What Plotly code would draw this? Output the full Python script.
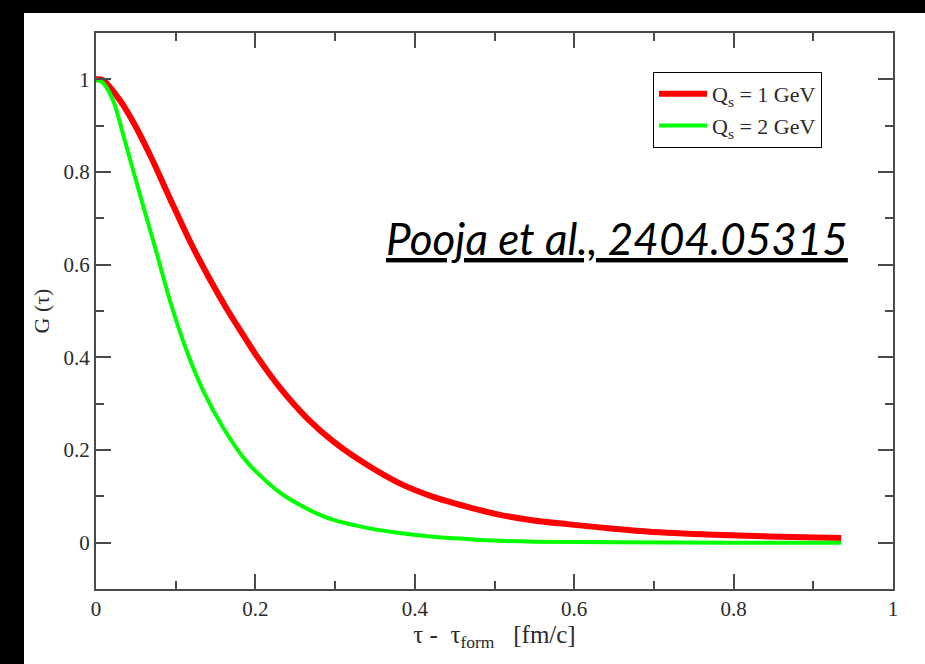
import plotly.graph_objects as go

# G(tau) vs tau - tau_form for two saturation scales
tau_qs1 = [0.0, 0.009, 0.030, 0.047, 0.068, 0.093, 0.118, 0.143, 0.164, 0.177, 0.202,
           0.231, 0.264, 0.298, 0.340, 0.381, 0.423, 0.465, 0.507, 0.549, 0.591,
           0.632, 0.691, 0.775, 0.858, 0.935]
g_qs1 = [1.0, 0.998, 0.955, 0.907, 0.836, 0.742, 0.650, 0.568, 0.505, 0.469, 0.402,
         0.334, 0.270, 0.218, 0.168, 0.128, 0.099, 0.078, 0.060, 0.048, 0.040,
         0.033, 0.024, 0.017, 0.013, 0.010]

tau_qs2 = [0.0, 0.009, 0.022, 0.034, 0.047, 0.059, 0.076, 0.093, 0.114, 0.135, 0.160,
           0.189, 0.227, 0.264, 0.298, 0.340, 0.381, 0.423, 0.465, 0.507, 0.549,
           0.650, 0.800, 0.935]
g_qs2 = [1.0, 0.992, 0.952, 0.881, 0.801, 0.728, 0.626, 0.521, 0.413, 0.326, 0.247,
         0.175, 0.113, 0.074, 0.049, 0.032, 0.021, 0.013, 0.008, 0.004, 0.002,
         0.001, 0.0, 0.0]

x_ticks = [0, 0.2, 0.4, 0.6, 0.8, 1]
y_ticks = [0, 0.2, 0.4, 0.6, 0.8, 1]

W, H = 925, 664
ML, MT = 96, 33
PLOT_RIGHT, PLOT_BOTTOM = 893, 589
MR, MB = W - PLOT_RIGHT, H - PLOT_BOTTOM
PW, PH = W - ML - MR, H - MT - MB


def px_x(p):
    return (p - ML) / PW


def px_y(p):
    return (PLOT_BOTTOM - p) / PH


serif = "Liberation Serif"
axis_col = "#4a4a4a"
text_col = "#2a2a2a"
NB = "\u00a0"

fig = go.Figure()
fig.add_trace(go.Scatter(x=tau_qs1, y=g_qs1, mode="lines", name=f"Q<sub>s</sub>{NB}={NB}1{NB}GeV",
                         line=dict(color="#ff0000", width=6, shape="spline", smoothing=0.8)))
fig.add_trace(go.Scatter(x=tau_qs2, y=g_qs2, mode="lines", name=f"Q<sub>s</sub>{NB}={NB}2{NB}GeV",
                         line=dict(color="#00ff00", width=4, shape="spline", smoothing=0.8)))

axis_common = dict(
    showgrid=False, zeroline=False, showline=True, linecolor=axis_col, linewidth=2,
    mirror="ticks", ticks="inside", ticklen=15, tickwidth=2, tickcolor=axis_col,
    tickfont=dict(family=serif, size=21, color=text_col),
    minor=dict(ticks="inside", ticklen=8, tickwidth=2, tickcolor=axis_col, dtick=0.1),
)

fig.update_xaxes(range=[0, 1], tickvals=x_ticks, ticktext=[f"{v:g}" for v in x_ticks],
                 title=dict(text=f"{NB * 6}τ{NB}-{NB}{NB}τ<sub>form</sub>{NB}{NB}{NB}[fm/c]",
                            font=dict(family=serif, size=25, color=text_col), standoff=0),
                 **axis_common)
fig.update_yaxes(range=[-0.1, 1.1], tickvals=y_ticks, ticktext=[f"{v:g}" for v in y_ticks],
                 title=dict(text="G (τ)", font=dict(family=serif, size=22, color=text_col),
                            standoff=8),
                 **axis_common)

# black frame strips along the top and left edges
shapes = [
    dict(type="rect", xref="paper", yref="paper", x0=px_x(-5), x1=px_x(24),
         y0=px_y(H + 20), y1=px_y(-5), fillcolor="black", line=dict(width=0), layer="above"),
    dict(type="rect", xref="paper", yref="paper", x0=px_x(-5), x1=px_x(W + 20),
         y0=px_y(13), y1=px_y(-5), fillcolor="black", line=dict(width=0), layer="above"),
]

fig.update_layout(
    width=W, height=H,
    margin=dict(l=ML, r=MR, t=MT, b=MB),
    paper_bgcolor="white", plot_bgcolor="white",
    shapes=shapes,
    legend=dict(x=px_x(653), y=px_y(72), xanchor="left", yanchor="top",
                bgcolor="white", bordercolor="black", borderwidth=1,
                font=dict(family=serif, size=22, color=text_col),
                itemwidth=48, tracegroupgap=0),
    annotations=[dict(
        text="<i><u>Pooja et al., 2404.05315</u></i>",
        xref="paper", yref="paper", x=px_x(617), y=px_y(238),
        xanchor="center", yanchor="middle", showarrow=False,
        font=dict(family="Lato", size=44, color="black"),
    )],
)

# keep the page from growing scrollbars around the full-window figure
page_js = ("document.documentElement.style.overflow='hidden';"
           "document.body.style.overflow='hidden';"
           "document.body.style.margin='0';")

fig.write_html("out.html", post_script=page_js)
